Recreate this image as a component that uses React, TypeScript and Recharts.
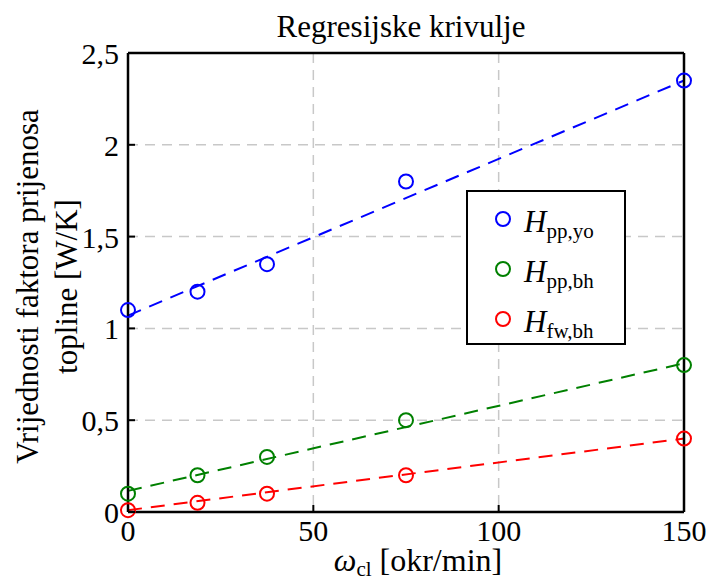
import { ComposedChart, Line, Scatter, XAxis, YAxis, CartesianGrid, Legend } from "recharts"

// measured points
const omega = [0, 18.75, 37.5, 75, 150]
const hPpYo = [1.1, 1.2, 1.35, 1.8, 2.35]
const hPpBh = [0.1, 0.2, 0.3, 0.5, 0.8]
const hFwBh = [0.01, 0.05, 0.1, 0.2, 0.4]

// regression lines (end points)
const fitX = [0, 150]
const fitPpYo = [1.07, 2.35]
const fitPpBh = [0.115, 0.81]
const fitFwBh = [0.01, 0.4]

const xTicks = [0, 50, 100, 150]
const yTicks = [0, 0.5, 1, 1.5, 2, 2.5]

const FONT = "Liberation Serif, Times New Roman, serif"

const toPoints = (xs: number[], ys: number[]) => xs.map((x, i) => ({ x, y: ys[i] }))

const series = [
  { key: "ppyo", color: "#0000ff", sub: "pp,yo", pts: toPoints(omega, hPpYo), fit: toPoints(fitX, fitPpYo) },
  { key: "ppbh", color: "#008000", sub: "pp,bh", pts: toPoints(omega, hPpBh), fit: toPoints(fitX, fitPpBh) },
  { key: "fwbh", color: "#ff0000", sub: "fw,bh", pts: toPoints(omega, hFwBh), fit: toPoints(fitX, fitFwBh) },
]

const fmt = (v: number) => String(v).replace(".", ",")

const txt = (size: number) => ({ fontFamily: FONT, fontSize: size, fill: "#000" })

const BottomTick = ({ x, y, payload }: any) => (
  <g>
    <line x1={x} y1={y} x2={x} y2={y - 7} stroke="#000" strokeWidth={2} />
    <text x={x} y={y + 29} textAnchor="middle" style={txt(30)}>
      {payload.value}
    </text>
  </g>
)

const LeftTick = ({ x, y, payload }: any) => (
  <g>
    <line x1={x} y1={y} x2={x + 7} y2={y} stroke="#000" strokeWidth={2} />
    <text x={x - 9} y={y + 11} textAnchor="end" style={txt(30)}>
      {fmt(payload.value)}
    </text>
  </g>
)

const TopTick = ({ x, y }: any) => <line x1={x} y1={y} x2={x} y2={y + 7} stroke="#000" strokeWidth={2} />
const RightTick = ({ x, y }: any) => <line x1={x} y1={y} x2={x - 7} y2={y} stroke="#000" strokeWidth={2} />

const TitleLabel = ({ viewBox }: any) => (
  <text x={viewBox.x + viewBox.width / 2 - 5} y={viewBox.y - 15} textAnchor="middle" style={txt(31)}>
    Regresijske krivulje
  </text>
)

const XLabel = ({ viewBox }: any) => (
  <text x={viewBox.x + viewBox.width / 2 + 12} y={viewBox.y + 59} textAnchor="middle" style={txt(32)}>
    <tspan fontStyle="italic">ω</tspan>
    <tspan fontSize={21} dy={5}>cl</tspan>
    <tspan dy={-5}> [okr/min]</tspan>
  </text>
)

const YLabel = ({ viewBox }: any) => {
  const cy = viewBox.y + viewBox.height / 2 + 4
  return (
    <g>
      <text x={38} y={cy} textAnchor="middle" transform={`rotate(-90 38 ${cy})`} style={txt(31)}>
        Vrijednosti faktora prijenosa
      </text>
      <text x={77} y={cy} textAnchor="middle" transform={`rotate(-90 77 ${cy})`} style={txt(31)}>
        topline [W/K]
      </text>
    </g>
  )
}

const dotShape = (color: string) => (props: any) => (
  <circle cx={props.cx} cy={props.cy} r={7} fill="none" stroke={color} strokeWidth={2} />
)

const LegendBox = () => (
  <div
    style={{
      width: 160,
      height: 155,
      boxSizing: "border-box",
      border: "2px solid #000",
      background: "#fff",
      paddingTop: 2,
      fontFamily: FONT,
    }}
  >
    {series.map(s => (
      <div key={s.key} style={{ height: 50, display: "flex", alignItems: "center" }}>
        <svg width={18} height={18} style={{ marginLeft: 26 }}>
          <circle cx={9} cy={9} r={7} fill="none" stroke={s.color} strokeWidth={2} />
        </svg>
        <span style={{ marginLeft: 12, marginTop: 6, color: "#000", whiteSpace: "nowrap" }}>
          <span style={{ fontStyle: "italic", fontSize: 31 }}>H</span>
          <span style={{ fontSize: 21, position: "relative", top: 6 }}>{s.sub}</span>
        </span>
      </div>
    ))}
  </div>
)

export default function App() {
  return (
    <div style={{ position: "absolute", left: 0, top: 0, background: "#fff", fontFamily: FONT }}>
      <ComposedChart width={711} height={581} margin={{ top: 52, right: 26, bottom: 68, left: 127 }} style={{ fontFamily: FONT }}>
        <CartesianGrid xAxisId="b" yAxisId="l" stroke="#c8c8c8" strokeWidth={1.5} strokeDasharray="10 7" />
        <XAxis
          xAxisId="b"
          dataKey="x"
          type="number"
          domain={[0, 150]}
          ticks={xTicks}
          height={1}
          tickSize={0}
          tickMargin={0}
          tickLine={false}
          axisLine={{ stroke: "#000", strokeWidth: 2.5 }}
          tick={<BottomTick />}
          label={<XLabel />}
          interval={0}
        />
        <XAxis
          xAxisId="t"
          dataKey="x"
          type="number"
          orientation="top"
          domain={[0, 150]}
          ticks={xTicks}
          height={1}
          tickSize={0}
          tickMargin={0}
          tickLine={false}
          axisLine={{ stroke: "#000", strokeWidth: 2.5 }}
          tick={<TopTick />}
          label={<TitleLabel />}
          interval={0}
        />
        <YAxis
          yAxisId="l"
          type="number"
          domain={[0, 2.5]}
          ticks={yTicks}
          width={1}
          tickSize={0}
          tickMargin={0}
          tickLine={false}
          axisLine={{ stroke: "#000", strokeWidth: 2.5 }}
          tick={<LeftTick />}
          label={<YLabel />}
          interval={0}
        />
        <YAxis
          yAxisId="r"
          type="number"
          orientation="right"
          domain={[0, 2.5]}
          ticks={yTicks}
          width={1}
          tickSize={0}
          tickMargin={0}
          tickLine={false}
          axisLine={{ stroke: "#000", strokeWidth: 2.5 }}
          tick={<RightTick />}
          interval={0}
        />
        {series.map(s => (
          <Line
            key={`fit-${s.key}`}
            xAxisId="b"
            yAxisId="l"
            data={s.fit}
            dataKey="y"
            type="linear"
            stroke={s.color}
            strokeWidth={2}
            strokeDasharray="14 9"
            dot={false}
            legendType="none"
            isAnimationActive={false}
          />
        ))}
        {series.map(s => (
          <Scatter
            key={`pts-${s.key}`}
            xAxisId="b"
            yAxisId="l"
            data={s.pts}
            dataKey="y"
            shape={dotShape(s.color)}
            isAnimationActive={false}
          />
        ))}
        <Legend
          layout="vertical"
          align="center"
          verticalAlign="middle"
          content={<LegendBox />}
          wrapperStyle={{ position: "absolute", left: 466, top: 190, width: 160, height: 155 }}
        />
      </ComposedChart>
    </div>
  )
}
